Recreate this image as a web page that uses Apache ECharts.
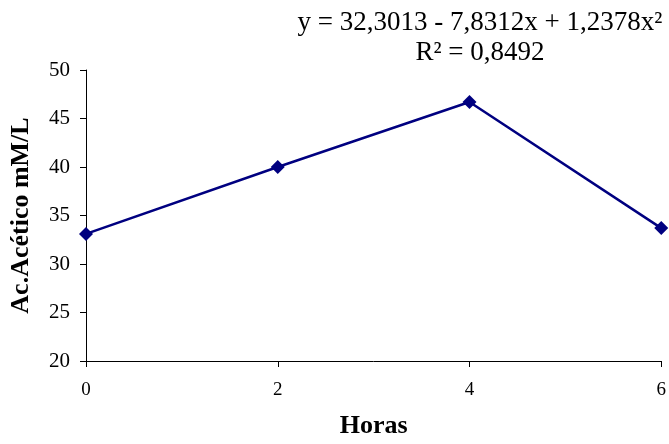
<!DOCTYPE html>
<html><head><meta charset="utf-8">
<script src="https://cdn.jsdelivr.net/npm/echarts@6/dist/echarts.min.js"></script>
<style>html,body{margin:0;padding:0;background:#fff}#c{width:669px;height:444px}</style>
</head><body><div id="c"></div>
<script>
var hours = [0, 2, 4, 6];
var acetico = [33.1, 40.0, 46.7, 33.7];
var xTicks = [0, 2, 4, 6];
var yTicks = [20, 25, 30, 35, 40, 45, 50];
var equation = 'y = 32,3013 - 7,8312x + 1,2378x²';
var r2 = 'R² = 0,8492';

var chart = echarts.init(document.getElementById('c'));
var F = '"Liberation Serif","Times New Roman",serif';
chart.setOption({
  animation: false,
  backgroundColor: '#fff',
  title: {
    text: equation + '\n' + r2,
    left: 475, top: 3, textAlign: 'center',
    textStyle: {fontFamily: F, fontSize: 27, fontWeight: 'normal', color: '#000', lineHeight: 30, align: 'center'}
  },
  grid: {left: 85, right: 6, top: 70, bottom: 80},
  xAxis: {
    type: 'value', min: 0, max: 6, interval: 2,
    name: 'Horas', nameLocation: 'middle', nameGap: 52,
    nameTextStyle: {fontFamily: F, fontSize: 26, fontWeight: 'bold', color: '#000'},
    axisLine: {lineStyle: {color: '#000', width: 1}},
    axisTick: {show: true, length: 6, lineStyle: {color: '#000'}},
    axisLabel: {fontFamily: F, fontSize: 19, color: '#000', margin: 20},
    splitLine: {show: false}
  },
  yAxis: {
    type: 'value', min: 20, max: 50, interval: 5,
    name: 'Ac.Acético mM/L', nameLocation: 'middle', nameGap: 52,
    nameTextStyle: {fontFamily: F, fontSize: 26, fontWeight: 'bold', color: '#000'},
    axisLine: {show: true, lineStyle: {color: '#000', width: 1}},
    axisTick: {show: true, length: 6, lineStyle: {color: '#000'}},
    axisLabel: {fontFamily: F, fontSize: 21, color: '#000', margin: 16},
    splitLine: {show: false}
  },
  series: [{
    type: 'line',
    data: hours.map(function (h, i) { return [h, acetico[i]]; }),
    symbol: 'diamond', symbolSize: 14,
    lineStyle: {color: '#000080', width: 2.5},
    itemStyle: {color: '#000080'}
  }]
});
</script></body></html>
